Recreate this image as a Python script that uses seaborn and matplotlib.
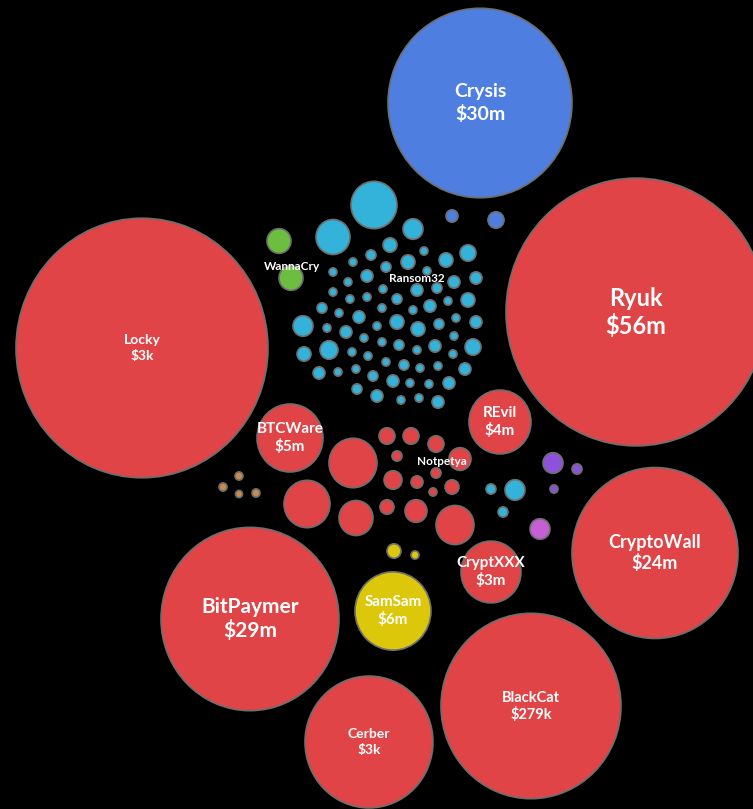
import numpy as np
import pandas as pd
import matplotlib.pyplot as plt
import seaborn as sns
from matplotlib.patches import Ellipse

# big labelled bubbles (centre x, centre y, radius in image pixels)
names = ["Crysis", "Ryuk", "Locky", "BitPaymer", "CryptoWall", "BlackCat",
         "Cerber", "SamSam", "CryptXXX", "REvil", "BTCWare"]
amounts = ["$30m", "$56m", "$3k", "$29m", "$24m", "$279k",
           "$3k", "$6m", "$3m", "$4m", "$5m"]
big_x = [480, 636, 142, 250, 655, 531, 369, 393, 491, 500, 290]
big_y = [103, 312, 348, 619, 553, 706, 742, 611, 572, 422, 438]
big_r = [92, 130, 126, 89, 83, 90, 64, 38, 30, 31, 33]
big_group = ["blue", "red", "red", "red", "red", "red",
             "red", "yellow", "red", "red", "red"]
font_pt = [14, 17, 10, 15, 13, 10.5, 10, 11, 11, 11, 11]

# Ransom32 cluster
ransom_x = [374, 333, 413, 390, 371, 353, 424, 446, 468, 408, 386, 367, 333, 348,
            427, 454, 476, 333, 383, 417, 437, 350, 367, 397, 430, 448, 468,
            322, 339, 359, 382, 413, 456, 476, 303, 327, 346, 377, 397, 418, 439,
            364, 382, 399, 417, 435, 454, 473, 304, 329, 352, 368, 386, 404, 420,
            453, 438, 465, 319, 338, 356, 373, 393, 410, 429, 449, 357, 377, 401,
            419, 438]
ransom_y = [205, 237, 229, 245, 255, 262, 251, 260, 253, 262, 267, 276, 272, 282,
            271, 282, 278, 292, 289, 290, 288, 299, 297, 299, 306, 301, 300,
            308, 313, 317, 308, 310, 318, 322, 326, 328, 332, 326, 322, 329, 324,
            338, 342, 345, 350, 346, 336, 347, 354, 350, 352, 356, 362, 365, 368,
            354, 366, 369, 373, 372, 369, 376, 381, 383, 384, 383, 389, 396, 400,
            398, 402]
ransom_r = [23, 17, 10, 7, 5, 4, 4, 7, 8, 7, 5, 6, 4, 4,
            4, 6, 6, 4, 4, 6, 5, 4, 4, 5, 6, 4, 7,
            5, 4, 6, 4, 4, 4, 6, 10, 4, 6, 4, 7, 7, 5,
            4, 4, 5, 4, 6, 4, 8, 7, 9, 4, 4, 4, 5, 4,
            4, 4, 6, 6, 4, 4, 5, 6, 4, 4, 6, 5, 6, 4,
            4, 6]

# Notpetya cluster
petya_x = [353, 307, 356, 387, 411, 436, 460, 397, 393, 417, 436, 452, 433, 387, 416, 455]
petya_y = [463, 504, 518, 436, 436, 444, 459, 456, 480, 482, 473, 487, 492, 507, 511, 525]
petya_r = [24, 23, 17, 8, 8, 8, 11, 5, 9, 6, 5, 7, 4, 7, 11, 19]

# small unlabelled groups
small_x = [279, 291, 452, 496, 394, 415, 553, 577, 554, 540, 491, 515, 503,
           223, 239, 239, 256]
small_y = [241, 278, 216, 220, 551, 555, 463, 469, 489, 529, 489, 490, 512,
           487, 476, 494, 493]
small_r = [12, 12, 6, 8, 7, 4, 10, 5, 4, 10, 5, 10, 5, 4, 4, 3.5, 4]
small_group = ["green", "green", "blue", "blue", "yellow", "yellow", "purple",
               "purple", "purple", "violet", "cyan", "cyan", "cyan",
               "orange", "orange", "orange", "orange"]

# in-cluster labels
tag_names = ["WannaCry", "Ransom32", "Notpetya"]
tag_x = [292, 417, 442]
tag_y = [267, 278, 461]

colors = {"red": "#E04446", "blue": "#4E7EE0", "cyan": "#33B3DA",
          "green": "#6BBE3F", "yellow": "#DCC70B", "purple": "#8D52DA",
          "violet": "#C45FD4", "orange": "#C98A4E"}

df = pd.concat([
    pd.DataFrame({"x": big_x, "y": big_y, "r": big_r, "group": big_group}),
    pd.DataFrame({"x": ransom_x, "y": ransom_y, "r": ransom_r, "group": "cyan"}),
    pd.DataFrame({"x": petya_x, "y": petya_y, "r": petya_r, "group": "red"}),
    pd.DataFrame({"x": small_x, "y": small_y, "r": small_r, "group": small_group}),
], ignore_index=True)

sns.set_style("dark", {"axes.facecolor": "black", "figure.facecolor": "black"})
label_font = ["Lato", "DejaVu Sans"]

fig = plt.figure(figsize=(7.53, 8.09), dpi=100)
ax = fig.add_axes([0, 0, 1, 1])
ax.set_xlim(0, 753)
ax.set_ylim(809, 0)
ax.set_facecolor("black")
ax.axis("off")

stretch = 1.03  # source image is slightly taller than wide
for row in df.itertuples():
    ax.add_patch(Ellipse((row.x, row.y), 2 * row.r, 2 * row.r * stretch,
                         facecolor=colors[row.group], edgecolor="#6e6e6e",
                         linewidth=1.2))

for name, amt, x, y, fs in zip(names, amounts, big_x, big_y, font_pt):
    off = fs * 0.8
    ax.text(x, y - off, name, color="white", fontsize=fs, fontweight="bold",
            ha="center", va="center", family=label_font)
    ax.text(x, y + off, amt, color="white", fontsize=fs, fontweight="bold",
            ha="center", va="center", family=label_font)

for name, x, y in zip(tag_names, tag_x, tag_y):
    ax.text(x, y, name, color="white", fontsize=8.5, fontweight="bold",
            ha="center", va="center", family=label_font)

fig.savefig("out.png", dpi=100, facecolor="black")
